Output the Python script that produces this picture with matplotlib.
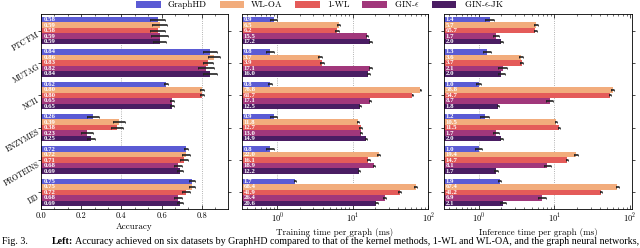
import numpy as np
import matplotlib
matplotlib.use("Agg")
import matplotlib.pyplot as plt
from matplotlib.ticker import AutoMinorLocator, LogLocator, NullFormatter

plt.rcParams["font.family"] = "serif"
plt.rcParams["font.serif"] = ["cmr10", "DejaVu Serif"]
plt.rcParams["mathtext.fontset"] = "cm"
plt.rcParams["axes.formatter.use_mathtext"] = True

# data
datasets = ["PTC_FM", "MUTAG", "NCI1", "ENZYMES", "PROTEINS", "DD"]
methods = ["GraphHD", "WL-OA", "1-WL", r"GIN-$\epsilon$", r"GIN-$\epsilon$-JK"]
colors = ["#5b5bd4", "#f2ac7c", "#e45b59", "#a1377b", "#4a1d63"]

# rows = datasets, cols = methods
accuracy = np.array([
    [0.58, 0.59, 0.58, 0.59, 0.59],
    [0.84, 0.86, 0.83, 0.82, 0.84],
    [0.62, 0.80, 0.80, 0.65, 0.65],
    [0.26, 0.39, 0.38, 0.23, 0.25],
    [0.72, 0.72, 0.71, 0.68, 0.69],
    [0.75, 0.75, 0.72, 0.68, 0.69],
])
accuracy_err = np.array([
    [0.035, 0.035, 0.035, 0.040, 0.030],
    [0.035, 0.030, 0.025, 0.040, 0.035],
    [0.010, 0.010, 0.010, 0.010, 0.010],
    [0.030, 0.030, 0.030, 0.030, 0.020],
    [0.010, 0.020, 0.020, 0.020, 0.015],
    [0.015, 0.015, 0.020, 0.020, 0.015],
])
train_time = np.array([
    [0.9, 6.5, 6.2, 15.5, 17.2],
    [0.8, 3.7, 3.9, 17.1, 16.0],
    [0.8, 78.8, 61.7, 17.1, 12.5],
    [0.9, 11.8, 12.7, 13.0, 14.9],
    [0.8, 22.0, 16.1, 18.9, 12.2],
    [1.7, 68.4, 41.9, 26.4, 20.6],
])
train_err = np.array([
    [0.10, 0.3, 0.3, 0.6, 0.7],
    [0.10, 0.2, 0.2, 0.8, 0.7],
    [0.05, 2.0, 1.5, 0.5, 0.4],
    [0.10, 0.4, 0.5, 0.4, 0.5],
    [0.10, 1.0, 0.6, 0.6, 0.4],
    [0.05, 2.5, 1.5, 1.0, 0.8],
])
infer_time = np.array([
    [1.4, 5.7, 5.6, 1.7, 2.0],
    [1.3, 3.6, 3.7, 2.1, 2.0],
    [1.0, 58.8, 54.7, 8.7, 1.8],
    [1.2, 10.5, 11.5, 1.7, 2.0],
    [1.0, 19.4, 14.7, 8.1, 1.7],
    [1.9, 67.4, 41.2, 6.9, 2.1],
])
infer_err = np.array([
    [0.20, 0.3, 0.3, 0.15, 0.10],
    [0.15, 0.2, 0.2, 0.30, 0.20],
    [0.08, 2.0, 2.0, 1.00, 0.05],
    [0.15, 0.4, 0.5, 0.15, 0.10],
    [0.10, 1.0, 0.5, 0.80, 0.10],
    [0.10, 3.0, 1.5, 0.80, 0.20],
])
# label printed in the source figure differs from bar length for one cell
infer_labels = [["%.1f" % v for v in row] for row in infer_time]
infer_labels[0][2] = "65.7"

fig = plt.figure(figsize=(6.4, 2.48), dpi=100)
bottom, height = 0.157, 0.787
ax1 = fig.add_axes([0.064, bottom, 0.292, height])
ax2 = fig.add_axes([0.378, bottom, 0.291, height])
ax3 = fig.add_axes([0.694, bottom, 0.294, height])

y = np.arange(len(datasets))
h = 0.17


def draw(ax, vals, errs, labels, xlab, logx, xlim, txt_x, grid_at):
    for g in grid_at:
        ax.axvline(g, linestyle=":", color="#999999", lw=0.6, zorder=0)
    for j in range(len(methods)):
        pos = y + (j - 2) * h
        ax.barh(pos, vals[:, j], height=h, color=colors[j], label=methods[j],
                zorder=2, linewidth=0)
        ax.errorbar(vals[:, j], pos, xerr=errs[:, j], fmt="none", ecolor="#222222",
                    elinewidth=1.2, capsize=1.0, capthick=0.6, zorder=3)
        for i in range(len(datasets)):
            ax.text(txt_x, pos[i], labels[i][j], color="white", fontsize=4.9,
                    va="center", ha="left", zorder=4, fontweight="bold",
                    family="Liberation Serif")
    if logx:
        ax.set_xscale("log")
        ax.xaxis.set_minor_locator(LogLocator(base=10, subs=np.arange(2, 10)))
        ax.xaxis.set_minor_formatter(NullFormatter())
    else:
        ax.xaxis.set_minor_locator(AutoMinorLocator(3))
    ax.set_xlim(*xlim)
    ax.set_ylim(5.515, -0.515)
    ax.set_yticks(y)
    ax.set_xlabel(xlab, fontsize=6.5, labelpad=2)
    ax.tick_params(axis="x", which="both", direction="in", top=True, labelsize=6, pad=2)
    ax.tick_params(axis="x", which="major", length=3, width=0.5)
    ax.tick_params(axis="x", which="minor", length=1.5, width=0.4)
    ax.tick_params(axis="y", which="both", direction="out", right=True, length=2,
                   width=0.5, pad=1)
    for s in ax.spines.values():
        s.set_linewidth(0.6)


acc_labels = [["%.2f" % v for v in row] for row in accuracy]
train_labels = [["%.1f" % v for v in row] for row in train_time]

draw(ax1, accuracy, accuracy_err, acc_labels, "Accuracy", False, (0, 0.93), 0.012,
     [0.4, 0.8])
draw(ax2, train_time, train_err, train_labels, "Training time per graph (ms)", True,
     (0.34, 100), 0.36, [1, 10])
draw(ax3, infer_time, infer_err, infer_labels, "Inference time per graph (ms)", True,
     (0.35, 107), 0.37, [1, 10])

ax1.set_xticks([0.0, 0.2, 0.4, 0.6, 0.8])
ax1.set_xticklabels(["0.0", "0.2", "0.4", "0.6", "0.8"])
ax1.set_yticklabels(datasets, rotation=30, fontsize=5.5, ha="right", va="top",
                    rotation_mode="anchor")
ax2.set_yticklabels([])
ax3.set_yticklabels([])

handles, labs = ax1.get_legend_handles_labels()
fig.legend(handles, labs, loc="center", bbox_to_anchor=(0.5, 0.982), ncol=5,
           frameon=False, fontsize=6.5, handlelength=2.7, handleheight=0.8,
           columnspacing=1.4, handletextpad=0.8, borderaxespad=0)

cap_y = 1 - 241 / 248
fig.text(0.003, cap_y, "Fig. 3.", fontsize=7.2, family="Liberation Serif", va="center")
fig.text(0.081, cap_y, "Left:", fontsize=7.2, family="Liberation Serif", va="center",
         fontweight="bold")
fig.text(0.117, cap_y, "Accuracy achieved on six datasets by GraphHD compared to that of "
         "the kernel methods, 1-WL and WL-OA, and the graph neural networks,",
         fontsize=7.2, family="Liberation Serif", va="center")

fig.savefig("out.png", dpi=100)
